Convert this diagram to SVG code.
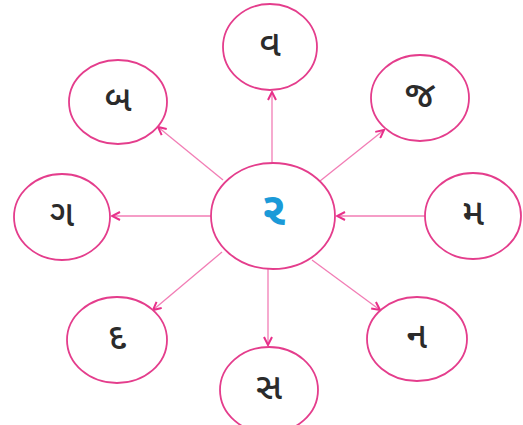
<svg xmlns="http://www.w3.org/2000/svg" width="523" height="425" viewBox="0 0 523 425">
<style>
.node ellipse{fill:#fff;stroke:#e43d8c;stroke-width:1.8}
.lbl{font-family:"Noto Sans Gujarati","Noto Serif Gujarati","Lohit Gujarati","Noto Sans",sans-serif;font-size:36px;font-weight:500;fill:#2b2b2b;text-anchor:middle;dominant-baseline:central}
.ctr{fill:#1b9ad8;font-size:46px;font-weight:bold}
.conn line{stroke:#f27db5;stroke-width:1.3;marker-end:url(#ah)}
</style>
<defs>
<marker id="ah" viewBox="0 0 10 10" refX="9" refY="5" markerWidth="10" markerHeight="10" markerUnits="userSpaceOnUse" orient="auto">
<path d="M1,1 L9,5 L1,9" fill="none" stroke="#e8308a" stroke-width="2"/>
</marker>
</defs>
<g id="connectors" class="conn">
<line x1="272" y1="163" x2="272" y2="92"/>
<line x1="223" y1="180" x2="158" y2="127"/>
<line x1="320" y1="181" x2="384" y2="130"/>
<line x1="425" y1="216" x2="337" y2="216"/>
<line x1="211" y1="216" x2="112" y2="216"/>
<line x1="312" y1="260" x2="380" y2="310"/>
<line x1="268" y1="269" x2="268" y2="345"/>
<line x1="222" y1="252" x2="153" y2="310"/>
</g>
<g id="center" class="node"><ellipse cx="273" cy="216" rx="62" ry="53"/><text class="lbl ctr" x="274" y="214">ર</text></g>
<g id="n-va" class="node"><ellipse cx="270" cy="47" rx="47" ry="43"/><text class="lbl" x="270" y="47">વ</text></g>
<g id="n-ja" class="node"><ellipse cx="420" cy="98" rx="49" ry="43"/><text class="lbl" x="420" y="98">જ</text></g>
<g id="n-ma" class="node"><ellipse cx="473" cy="216" rx="48" ry="43"/><text class="lbl" x="473" y="216">મ</text></g>
<g id="n-na" class="node"><ellipse cx="417" cy="339" rx="50" ry="42"/><text class="lbl" x="417" y="339">ન</text></g>
<g id="n-sa" class="node"><ellipse cx="269" cy="390" rx="49" ry="43"/><text class="lbl" x="269" y="390">સ</text></g>
<g id="n-da" class="node"><ellipse cx="117" cy="340" rx="50" ry="43"/><text class="lbl" x="117" y="340">દ</text></g>
<g id="n-ga" class="node"><ellipse cx="62" cy="217" rx="48" ry="43"/><text class="lbl" x="62" y="217">ગ</text></g>
<g id="n-ba" class="node"><ellipse cx="118" cy="102" rx="49" ry="42"/><text class="lbl" x="118" y="102">બ</text></g>
</svg>
